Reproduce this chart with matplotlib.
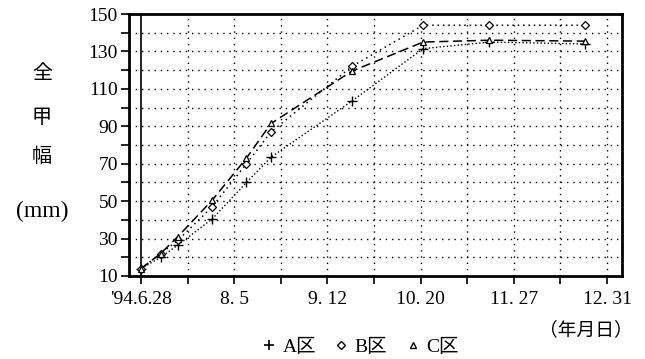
import matplotlib.pyplot as plt
from matplotlib.lines import Line2D
from matplotlib.ticker import MultipleLocator

plt.rcParams['font.family'] = ['Liberation Serif', 'Noto Sans CJK JP']

# sampling days counted from '94.6.28
days = [0, 8, 15, 29, 43, 53, 86, 115, 142, 181]
width_a = [14, 20, 26.5, 40.5, 60, 73.5, 103.5, 131.5, 135, 134]
width_b = [14, 22, 29, 47, 70, 87, 122, 144, 144, 144]
width_c = [14, 22, 31, 50.5, 73, 91.5, 119.5, 135, 136, 135.5]

tick_days = [0, 19, 38, 57, 76, 95, 114, 133, 152, 171, 190]
tick_labels = ["'94.6.28", '', '8. 5', '', '9. 12', '', '10. 20', '', '11. 27', '', '12. 31']
legend_names = ['A区', 'B区', 'C区']

fig = plt.figure(figsize=(6.45, 3.59), dpi=100)
ax = fig.add_axes([0.2, 0.2312, 0.764, 0.7298])

ax.plot(days, width_a, color='black', ls=(0, (1, 1.6)), lw=1.0,
        marker='+', ms=7, mew=1.0)
ax.plot(days, width_b, color='black', ls=(0, (1, 2.5)), lw=1.1,
        marker='D', ms=4.5, mfc='white', mew=0.9)
ax.plot(days, width_c, color='black', ls=(0, (6, 3)), lw=1.1,
        marker='^', ms=5, mfc='white', mew=0.9)

ax.set_xlim(-4.9, 196)
ax.set_ylim(10, 150)

ax.set_xticks(tick_days)
ax.set_xticklabels(tick_labels, fontsize=14)
ax.yaxis.set_major_locator(MultipleLocator(20))
ax.yaxis.set_minor_locator(MultipleLocator(10))
ax.set_yticks(range(10, 151, 20))
ax.tick_params(axis='y', which='both', direction='out', length=6, width=1.2, labelsize=14, pad=2)
ax.tick_params(axis='x', direction='out', length=6, width=1.2, pad=5)

# dotted grid, solid line at the start date
for y in range(20, 150, 10):
    ax.axhline(y, color='black', ls=(0, (1, 3.5)), lw=1.0, zorder=0)
for d in tick_days[1:]:
    ax.axvline(d, color='black', ls=(0, (1, 3.5)), lw=1.0, zorder=0)
ax.axvline(0, color='black', lw=1.2, zorder=1)

for s in ax.spines.values():
    s.set_linewidth(2)

for txt, y in [('全', 0.794), ('甲', 0.674), ('幅', 0.563)]:
    fig.text(0.065, y, txt, fontsize=14.5, ha='center', va='center',
             family=['Noto Sans CJK JP'])
fig.text(0.065, 0.41, '(mm)', fontsize=17, ha='center', va='center')
fig.text(0.909, 0.081, '（年月日）', fontsize=13.5, ha='center', va='center',
         family=['Noto Sans CJK JP'])

handles = [
    Line2D([], [], color='black', ls='none', marker='+', ms=7, mew=1.2),
    Line2D([], [], color='black', ls='none', marker='D', ms=4, mfc='white', mew=1),
    Line2D([], [], color='black', ls='none', marker='^', ms=4.5, mfc='white', mew=1),
]
fig.legend(handles, legend_names, loc='center', bbox_to_anchor=(0.558, 0.033),
           ncol=3, frameon=False, fontsize=14, handlelength=0.8,
           handletextpad=0.3, columnspacing=0.9, borderpad=0)

fig.savefig('out.png', dpi=100)
